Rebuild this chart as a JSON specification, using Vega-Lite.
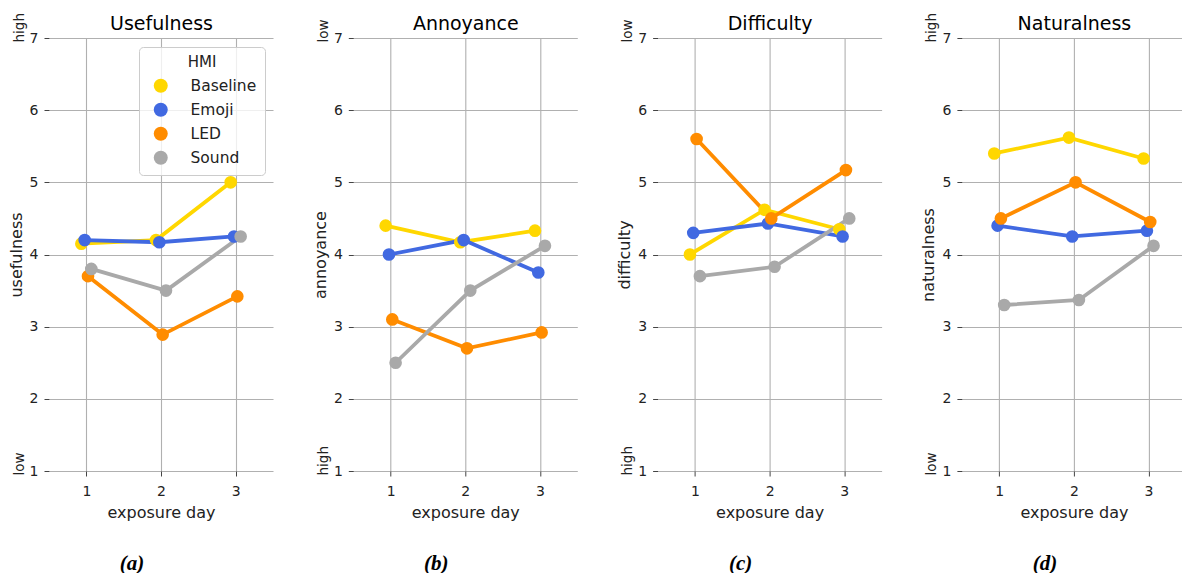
{
  "$schema": "https://vega.github.io/schema/vega-lite/v6.json",
  "padding": {"left": 8, "top": 12, "right": 0, "bottom": 0},
  "background": "white",
  "bounds": "flush",
  "spacing": 80.3,
  "datasets": {
    "scores": [
      {"measure": "Usefulness", "HMI": "Baseline", "day": 1, "value": 4.15},
      {"measure": "Usefulness", "HMI": "Baseline", "day": 2, "value": 4.2},
      {"measure": "Usefulness", "HMI": "Baseline", "day": 3, "value": 5.0},
      {"measure": "Usefulness", "HMI": "Emoji", "day": 1, "value": 4.2},
      {"measure": "Usefulness", "HMI": "Emoji", "day": 2, "value": 4.17},
      {"measure": "Usefulness", "HMI": "Emoji", "day": 3, "value": 4.25},
      {"measure": "Usefulness", "HMI": "LED", "day": 1, "value": 3.7},
      {"measure": "Usefulness", "HMI": "LED", "day": 2, "value": 2.89},
      {"measure": "Usefulness", "HMI": "LED", "day": 3, "value": 3.42},
      {"measure": "Usefulness", "HMI": "Sound", "day": 1, "value": 3.8},
      {"measure": "Usefulness", "HMI": "Sound", "day": 2, "value": 3.5},
      {"measure": "Usefulness", "HMI": "Sound", "day": 3, "value": 4.25},
      {"measure": "Annoyance", "HMI": "Baseline", "day": 1, "value": 4.4},
      {"measure": "Annoyance", "HMI": "Baseline", "day": 2, "value": 4.17},
      {"measure": "Annoyance", "HMI": "Baseline", "day": 3, "value": 4.33},
      {"measure": "Annoyance", "HMI": "Emoji", "day": 1, "value": 4.0},
      {"measure": "Annoyance", "HMI": "Emoji", "day": 2, "value": 4.2},
      {"measure": "Annoyance", "HMI": "Emoji", "day": 3, "value": 3.75},
      {"measure": "Annoyance", "HMI": "LED", "day": 1, "value": 3.1},
      {"measure": "Annoyance", "HMI": "LED", "day": 2, "value": 2.7},
      {"measure": "Annoyance", "HMI": "LED", "day": 3, "value": 2.92},
      {"measure": "Annoyance", "HMI": "Sound", "day": 1, "value": 2.5},
      {"measure": "Annoyance", "HMI": "Sound", "day": 2, "value": 3.5},
      {"measure": "Annoyance", "HMI": "Sound", "day": 3, "value": 4.12},
      {"measure": "Difficulty", "HMI": "Baseline", "day": 1, "value": 4.0},
      {"measure": "Difficulty", "HMI": "Baseline", "day": 2, "value": 4.62},
      {"measure": "Difficulty", "HMI": "Baseline", "day": 3, "value": 4.35},
      {"measure": "Difficulty", "HMI": "Emoji", "day": 1, "value": 4.3},
      {"measure": "Difficulty", "HMI": "Emoji", "day": 2, "value": 4.43},
      {"measure": "Difficulty", "HMI": "Emoji", "day": 3, "value": 4.25},
      {"measure": "Difficulty", "HMI": "LED", "day": 1, "value": 5.6},
      {"measure": "Difficulty", "HMI": "LED", "day": 2, "value": 4.5},
      {"measure": "Difficulty", "HMI": "LED", "day": 3, "value": 5.17},
      {"measure": "Difficulty", "HMI": "Sound", "day": 1, "value": 3.7},
      {"measure": "Difficulty", "HMI": "Sound", "day": 2, "value": 3.83},
      {"measure": "Difficulty", "HMI": "Sound", "day": 3, "value": 4.5},
      {"measure": "Naturalness", "HMI": "Baseline", "day": 1, "value": 5.4},
      {"measure": "Naturalness", "HMI": "Baseline", "day": 2, "value": 5.62},
      {"measure": "Naturalness", "HMI": "Baseline", "day": 3, "value": 5.33},
      {"measure": "Naturalness", "HMI": "Emoji", "day": 1, "value": 4.4},
      {"measure": "Naturalness", "HMI": "Emoji", "day": 2, "value": 4.25},
      {"measure": "Naturalness", "HMI": "Emoji", "day": 3, "value": 4.33},
      {"measure": "Naturalness", "HMI": "LED", "day": 1, "value": 4.5},
      {"measure": "Naturalness", "HMI": "LED", "day": 2, "value": 5.0},
      {"measure": "Naturalness", "HMI": "LED", "day": 3, "value": 4.45},
      {"measure": "Naturalness", "HMI": "Sound", "day": 1, "value": 3.3},
      {"measure": "Naturalness", "HMI": "Sound", "day": 2, "value": 3.37},
      {"measure": "Naturalness", "HMI": "Sound", "day": 3, "value": 4.12}
    ]
  },
  "data": {"name": "scores"},
  "hconcat": [
    {
      "width": 224, "height": 433,
      "transform": [{"filter": "datum.measure === 'Usefulness'"}],
      "title": {"text": "(a)", "orient": "bottom", "frame": "group", "anchor": "middle", "dx": -29, "offset": 50, "baseline": "alphabetic", "font": "Liberation Serif", "fontStyle": "italic", "fontWeight": "bold", "fontSize": 21, "color": "#000"},
      "layer": [
        {
          "encoding": {
            "x": {"field": "day", "type": "ordinal", "scale": {"type": "point", "padding": 0.5}, "axis": {"title": "exposure day", "labelAngle": 0, "grid": true, "domain": false, "tickSize": 5, "labelPadding": 8, "titlePadding": 6}},
            "y": {"field": "value", "type": "quantitative", "scale": {"domain": [1, 7], "zero": false, "nice": false}, "axis": {"title": "usefulness", "values": [1, 2, 3, 4, 5, 6, 7], "grid": true, "domain": false, "tickSize": 5, "labelPadding": 6, "titlePadding": 5}},
            "xOffset": {"field": "HMI", "type": "nominal", "scale": {"domain": ["Baseline", "Emoji", "LED", "Sound"], "range": [-4.98, 4.98], "paddingInner": 0, "paddingOuter": 0}}
          },
          "layer": [
            {"mark": {"type": "line", "strokeWidth": 3.8}, "encoding": {"stroke": {"field": "HMI", "type": "nominal", "scale": {"domain": ["Baseline", "Emoji", "LED", "Sound"], "range": ["#FFD700", "#4169E1", "#FF8C00", "#A9A9A9"]}, "legend": null}}},
            {"mark": {"type": "circle", "size": 160, "opacity": 1}, "encoding": {"color": {"field": "HMI", "type": "nominal", "scale": {"domain": ["Baseline", "Emoji", "LED", "Sound"], "range": ["#FFD700", "#4169E1", "#FF8C00", "#A9A9A9"]}, "legend": {"orient": "none", "legendX": 90, "legendY": 9, "title": "HMI", "titleAnchor": "middle", "titleFontSize": 15, "titleFontWeight": "normal", "titlePadding": 8, "labelFontSize": 15.5, "symbolType": "circle", "symbolSize": 196, "symbolOpacity": 1, "symbolStrokeWidth": 0, "symbolOffset": 6, "labelOffset": 22, "rowPadding": 7, "padding": 8, "strokeColor": "#cccccc", "fillColor": "rgba(255,255,255,0.8)", "cornerRadius": 4}}}}
          ]
        },
        {
          "mark": {"type": "point", "opacity": 0},
          "encoding": {
            "x": {"field": "day", "type": "ordinal", "scale": {"type": "point", "padding": 0.5}, "axis": {"orient": "top", "title": "Usefulness", "labels": false, "ticks": false, "domain": false, "grid": false, "titleFontSize": 19, "titlePadding": 9, "titleBaseline": "alphabetic", "titleColor": "#000"}},
            "y": {"field": "value", "type": "quantitative", "scale": {"domain": [1, 7], "zero": false, "nice": false}, "axis": {"orient": "left", "title": null, "values": [1, 7], "labelExpr": "datum.value == 7 ? 'high' : 'low'", "labelAngle": 270, "labelAlign": "left", "labelBaseline": "alphabetic", "labelPadding": 26, "labelOffset": 4, "labelFontSize": 13.5, "ticks": false, "tickSize": 0, "domain": false, "grid": false}}
          }
        }
      ],
      "resolve": {"axis": {"x": "independent", "y": "independent"}}
    },
    {
      "width": 224, "height": 433,
      "transform": [{"filter": "datum.measure === 'Annoyance'"}],
      "title": {"text": "(b)", "orient": "bottom", "frame": "group", "anchor": "middle", "dx": -29, "offset": 50, "baseline": "alphabetic", "font": "Liberation Serif", "fontStyle": "italic", "fontWeight": "bold", "fontSize": 21, "color": "#000"},
      "layer": [
        {
          "encoding": {
            "x": {"field": "day", "type": "ordinal", "scale": {"type": "point", "padding": 0.5}, "axis": {"title": "exposure day", "labelAngle": 0, "grid": true, "domain": false, "tickSize": 5, "labelPadding": 8, "titlePadding": 6}},
            "y": {"field": "value", "type": "quantitative", "scale": {"domain": [1, 7], "zero": false, "nice": false}, "axis": {"title": "annoyance", "values": [1, 2, 3, 4, 5, 6, 7], "grid": true, "domain": false, "tickSize": 5, "labelPadding": 6, "titlePadding": 5}},
            "xOffset": {"field": "HMI", "type": "nominal", "scale": {"domain": ["Baseline", "Emoji", "LED", "Sound"], "range": [-4.98, 4.98], "paddingInner": 0, "paddingOuter": 0}}
          },
          "layer": [
            {"mark": {"type": "line", "strokeWidth": 3.8}, "encoding": {"stroke": {"field": "HMI", "type": "nominal", "scale": {"domain": ["Baseline", "Emoji", "LED", "Sound"], "range": ["#FFD700", "#4169E1", "#FF8C00", "#A9A9A9"]}, "legend": null}}},
            {"mark": {"type": "circle", "size": 160, "opacity": 1}, "encoding": {"color": {"field": "HMI", "type": "nominal", "scale": {"domain": ["Baseline", "Emoji", "LED", "Sound"], "range": ["#FFD700", "#4169E1", "#FF8C00", "#A9A9A9"]}, "legend": null}}}
          ]
        },
        {
          "mark": {"type": "point", "opacity": 0},
          "encoding": {
            "x": {"field": "day", "type": "ordinal", "scale": {"type": "point", "padding": 0.5}, "axis": {"orient": "top", "title": "Annoyance", "labels": false, "ticks": false, "domain": false, "grid": false, "titleFontSize": 19, "titlePadding": 9, "titleBaseline": "alphabetic", "titleColor": "#000"}},
            "y": {"field": "value", "type": "quantitative", "scale": {"domain": [1, 7], "zero": false, "nice": false}, "axis": {"orient": "left", "title": null, "values": [1, 7], "labelExpr": "datum.value == 7 ? 'low' : 'high'", "labelAngle": 270, "labelAlign": "left", "labelBaseline": "alphabetic", "labelPadding": 26, "labelOffset": 4, "labelFontSize": 13.5, "ticks": false, "tickSize": 0, "domain": false, "grid": false}}
          }
        }
      ],
      "resolve": {"axis": {"x": "independent", "y": "independent"}}
    },
    {
      "width": 224, "height": 433,
      "transform": [{"filter": "datum.measure === 'Difficulty'"}],
      "title": {"text": "(c)", "orient": "bottom", "frame": "group", "anchor": "middle", "dx": -29, "offset": 50, "baseline": "alphabetic", "font": "Liberation Serif", "fontStyle": "italic", "fontWeight": "bold", "fontSize": 21, "color": "#000"},
      "layer": [
        {
          "encoding": {
            "x": {"field": "day", "type": "ordinal", "scale": {"type": "point", "padding": 0.5}, "axis": {"title": "exposure day", "labelAngle": 0, "grid": true, "domain": false, "tickSize": 5, "labelPadding": 8, "titlePadding": 6}},
            "y": {"field": "value", "type": "quantitative", "scale": {"domain": [1, 7], "zero": false, "nice": false}, "axis": {"title": "difficulty", "values": [1, 2, 3, 4, 5, 6, 7], "grid": true, "domain": false, "tickSize": 5, "labelPadding": 6, "titlePadding": 5}},
            "xOffset": {"field": "HMI", "type": "nominal", "scale": {"domain": ["Baseline", "Emoji", "LED", "Sound"], "range": [-4.98, 4.98], "paddingInner": 0, "paddingOuter": 0}}
          },
          "layer": [
            {"mark": {"type": "line", "strokeWidth": 3.8}, "encoding": {"stroke": {"field": "HMI", "type": "nominal", "scale": {"domain": ["Baseline", "Emoji", "LED", "Sound"], "range": ["#FFD700", "#4169E1", "#FF8C00", "#A9A9A9"]}, "legend": null}}},
            {"mark": {"type": "circle", "size": 160, "opacity": 1}, "encoding": {"color": {"field": "HMI", "type": "nominal", "scale": {"domain": ["Baseline", "Emoji", "LED", "Sound"], "range": ["#FFD700", "#4169E1", "#FF8C00", "#A9A9A9"]}, "legend": null}}}
          ]
        },
        {
          "mark": {"type": "point", "opacity": 0},
          "encoding": {
            "x": {"field": "day", "type": "ordinal", "scale": {"type": "point", "padding": 0.5}, "axis": {"orient": "top", "title": "Difficulty", "labels": false, "ticks": false, "domain": false, "grid": false, "titleFontSize": 19, "titlePadding": 9, "titleBaseline": "alphabetic", "titleColor": "#000"}},
            "y": {"field": "value", "type": "quantitative", "scale": {"domain": [1, 7], "zero": false, "nice": false}, "axis": {"orient": "left", "title": null, "values": [1, 7], "labelExpr": "datum.value == 7 ? 'low' : 'high'", "labelAngle": 270, "labelAlign": "left", "labelBaseline": "alphabetic", "labelPadding": 26, "labelOffset": 4, "labelFontSize": 13.5, "ticks": false, "tickSize": 0, "domain": false, "grid": false}}
          }
        }
      ],
      "resolve": {"axis": {"x": "independent", "y": "independent"}}
    },
    {
      "width": 224, "height": 433,
      "transform": [{"filter": "datum.measure === 'Naturalness'"}],
      "title": {"text": "(d)", "orient": "bottom", "frame": "group", "anchor": "middle", "dx": -29, "offset": 50, "baseline": "alphabetic", "font": "Liberation Serif", "fontStyle": "italic", "fontWeight": "bold", "fontSize": 21, "color": "#000"},
      "layer": [
        {
          "encoding": {
            "x": {"field": "day", "type": "ordinal", "scale": {"type": "point", "padding": 0.5}, "axis": {"title": "exposure day", "labelAngle": 0, "grid": true, "domain": false, "tickSize": 5, "labelPadding": 8, "titlePadding": 6}},
            "y": {"field": "value", "type": "quantitative", "scale": {"domain": [1, 7], "zero": false, "nice": false}, "axis": {"title": "naturalness", "values": [1, 2, 3, 4, 5, 6, 7], "grid": true, "domain": false, "tickSize": 5, "labelPadding": 6, "titlePadding": 5}},
            "xOffset": {"field": "HMI", "type": "nominal", "scale": {"domain": ["Baseline", "Emoji", "LED", "Sound"], "range": [-4.98, 4.98], "paddingInner": 0, "paddingOuter": 0}}
          },
          "layer": [
            {"mark": {"type": "line", "strokeWidth": 3.8}, "encoding": {"stroke": {"field": "HMI", "type": "nominal", "scale": {"domain": ["Baseline", "Emoji", "LED", "Sound"], "range": ["#FFD700", "#4169E1", "#FF8C00", "#A9A9A9"]}, "legend": null}}},
            {"mark": {"type": "circle", "size": 160, "opacity": 1}, "encoding": {"color": {"field": "HMI", "type": "nominal", "scale": {"domain": ["Baseline", "Emoji", "LED", "Sound"], "range": ["#FFD700", "#4169E1", "#FF8C00", "#A9A9A9"]}, "legend": null}}}
          ]
        },
        {
          "mark": {"type": "point", "opacity": 0},
          "encoding": {
            "x": {"field": "day", "type": "ordinal", "scale": {"type": "point", "padding": 0.5}, "axis": {"orient": "top", "title": "Naturalness", "labels": false, "ticks": false, "domain": false, "grid": false, "titleFontSize": 19, "titlePadding": 9, "titleBaseline": "alphabetic", "titleColor": "#000"}},
            "y": {"field": "value", "type": "quantitative", "scale": {"domain": [1, 7], "zero": false, "nice": false}, "axis": {"orient": "left", "title": null, "values": [1, 7], "labelExpr": "datum.value == 7 ? 'high' : 'low'", "labelAngle": 270, "labelAlign": "left", "labelBaseline": "alphabetic", "labelPadding": 26, "labelOffset": 4, "labelFontSize": 13.5, "ticks": false, "tickSize": 0, "domain": false, "grid": false}}
          }
        }
      ],
      "resolve": {"axis": {"x": "independent", "y": "independent"}}
    }
  ],
  "resolve": {"scale": {"color": "independent"}, "legend": {"color": "independent"}},
  "config": {
    "font": "DejaVu Sans",
    "view": {"stroke": null},
    "axis": {
      "labelFont": "DejaVu Sans",
      "titleFont": "DejaVu Sans",
      "labelFontSize": 14,
      "titleFontSize": 16,
      "titleFontWeight": "normal",
      "labelColor": "#222222",
      "titleColor": "#222222",
      "tickColor": "#444444",
      "gridColor": "#b0b0b0",
      "gridWidth": 1.1
    },
    "legend": {
      "labelFont": "DejaVu Sans",
      "titleFont": "DejaVu Sans",
      "labelColor": "#222222",
      "titleColor": "#222222"
    }
  }
}
